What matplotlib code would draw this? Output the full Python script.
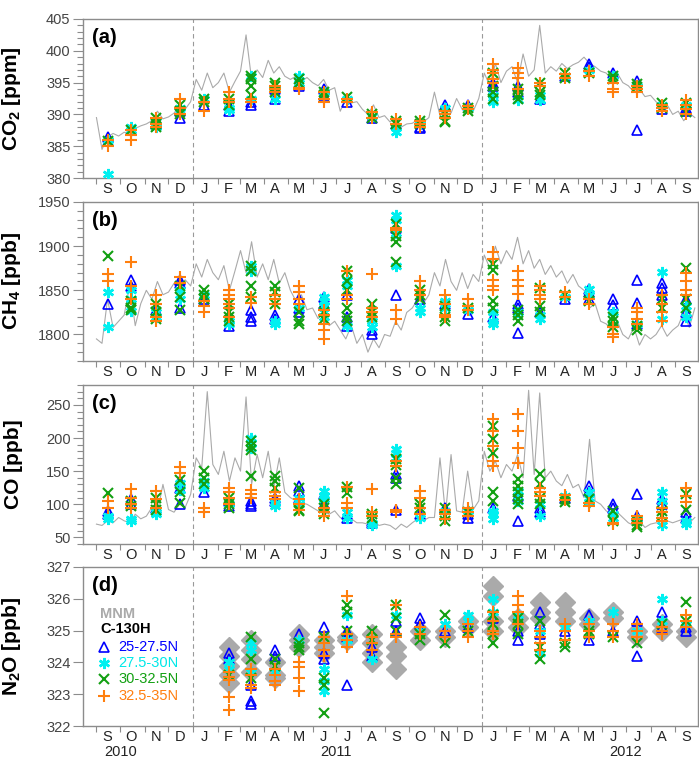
import datetime as dt
import numpy as np
import matplotlib
matplotlib.use("Agg")
import matplotlib.pyplot as plt
import matplotlib.dates as mdates
from matplotlib.ticker import MultipleLocator, FixedLocator, NullFormatter, FixedFormatter

plt.rcParams['font.family'] = ['Liberation Sans', 'DejaVu Sans']
plt.rcParams['mathtext.fontset'] = 'custom'
plt.rcParams['mathtext.rm'] = 'Liberation Sans:bold'
plt.rcParams['mathtext.default'] = 'rm'

# months Sep 2010 .. Sep 2012
month_letters = ['S', 'O', 'N', 'D', 'J', 'F', 'M', 'A', 'M', 'J', 'J', 'A',
                 'S', 'O', 'N', 'D', 'J', 'F', 'M', 'A', 'M', 'J', 'J', 'A', 'S']
years = ['2010', '2011', '2012']
year_pos = [dt.date(2010, 10, 1), dt.date(2011, 7, 1), dt.date(2012, 7, 1)]
band_names = ['25-27.5N', '27.5-30N', '30-32.5N', '32.5-35N']

# MNM record, one value every 7 days from 1 Sep 2010
mnm_start = dt.date(2010, 9, 1)
mnm_co2 = [389.5, 384.5, 386.5, 387.0, 386.6,
           387.2, 386.9, 387.8, 388.2,
           388.5, 389.0, 390.5, 389.3,
           389.6, 390.2, 391.3, 390.8, 392.0,
           395.5, 393.8, 396.5, 394.2,
           395.0, 396.5, 393.5, 395.2,
           396.8, 402.5, 395.5, 397.0, 395.8,
           398.5, 396.5, 397.5, 396.0,
           395.5, 396.0, 395.2, 395.8,
           395.0, 394.5, 395.5, 393.8, 394.2,
           390.5, 392.5, 391.8, 392.0,
           390.8, 390.0, 391.5, 389.5, 389.8,
           388.8, 389.5, 388.0, 388.5,
           388.6, 389.2, 388.8, 389.5,
           393.5, 389.8, 391.8, 390.2, 392.5,
           390.8, 391.5, 390.5, 392.5,
           396.5, 394.5, 398.0, 395.0, 396.8,
           397.5, 395.0, 399.5, 396.0,
           397.0, 404.0, 396.5, 397.5,
           396.8, 398.0, 397.2, 397.8, 398.2,
           399.0, 398.0, 397.5, 396.8,
           396.5, 395.5, 396.5, 395.0,
           394.5, 393.5, 394.0, 392.8, 393.0,
           392.0, 391.0, 391.5, 390.0,
           390.5, 389.0, 390.2, 389.5]
mnm_ch4 = [1795, 1790, 1840, 1808, 1815,
           1822, 1855, 1810, 1835,
           1850, 1840, 1860, 1845,
           1848, 1858, 1845, 1862, 1855,
           1880, 1865, 1885, 1870,
           1862, 1878, 1850, 1872,
           1895, 1870, 1905, 1865, 1880,
           1862, 1885, 1858, 1870,
           1850, 1838, 1845, 1828,
           1830, 1818, 1825, 1810, 1815,
           1805, 1795, 1810, 1790,
           1800, 1780, 1795, 1785, 1800,
           1798, 1815, 1805, 1825,
           1830, 1840, 1835, 1845,
           1870, 1855, 1885, 1860, 1850,
           1870, 1852, 1868, 1860,
           1890, 1875, 1900, 1880, 1895,
           1885, 1910, 1880, 1895,
           1875, 1885, 1868, 1878,
           1865, 1872, 1858, 1868, 1855,
           1850, 1830, 1835, 1815,
           1812, 1805, 1815, 1800,
           1795, 1808, 1788, 1800, 1795,
           1800, 1810, 1798, 1805,
           1810, 1825, 1808, 1830]
mnm_co = [70, 68, 75, 72, 80,
          75, 72, 85, 78,
          82, 95, 88, 130,
          92, 88, 100, 95, 115,
          170, 155, 270, 160,
          145, 180, 135, 170,
          150, 262, 130, 175, 140,
          180, 125, 170, 118,
          110, 105, 102, 100,
          95, 90, 88, 85, 90,
          80, 75, 78, 72,
          72, 70, 74, 68, 70,
          68, 62, 70, 65,
          72, 78, 75, 80,
          80, 170, 85, 175, 90,
          88, 150, 92, 105,
          180, 150, 165, 140, 160,
          150, 175, 140, 272,
          145, 268, 140, 150,
          135, 128, 145, 125, 130,
          110, 198, 105, 100,
          90, 85, 88, 80,
          72, 68, 75, 65, 70,
          72, 70, 75, 72,
          75, 78, 72, 80]

# C-130H flight values, one list per month, Sep 2010 .. Sep 2012
co2_b1 = [[386.5, 385.8], [387.5], [388.5], [389.5, 390.5], [391.5], [390.5, 391.5], [391.5, 392.0],
          [392.5, 394.0], [395.0, 394.5], [394.0, 393.0], [392.0], [389.5], [388.5], [388.0, 387.8],
          [391.5], [391.5], [395.0, 394.5], [394.5, 393.5], [392.5], [396.0], [398.0, 397.5], [396.5],
          [395.3, 387.5], [390.8], [391.0, 390.5]]
co2_b2 = [[386.0, 380.7], [388.0, 387.5], [389.0, 388.0], [391.0, 390.5], [392.5], [391.0, 390.7],
          [396.0, 392.5], [392.5], [396.0, 395.0], [393.5], [392.5], [389.8], [388.0, 387.3], [388.5],
          [391.0], [391.0], [392.0, 393.0], [392.2], [392.3, 393.0], [396.0], [397.0], [396.0], [394.5],
          [391.5], [391.5]]
co2_b3 = [[385.8], [387.5], [389.5, 388.5, 388.0], [391.5, 390.5, 390.0], [392.5, 392.0], [392.5, 391.5],
          [396.0, 395.5, 394.5, 393.0], [395.0, 394.5, 393.5], [395.5, 395.0], [393.5, 393.0], [392.8],
          [390.0, 389.5], [389.0, 388.5], [389.0, 388.5], [390.0, 389.0, 388.8], [391.0, 390.5],
          [396.5, 394.5, 393.5, 392.5], [394.0, 393.0, 392.5], [395.0, 393.5, 393.0], [396.5, 395.7],
          [396.5], [396.0, 395.5], [394.8, 394.3], [391.8, 391.0], [390.3, 391.8]]
co2_b4 = [[386.0, 385.0], [387.5, 386.8, 386.0], [389.5, 388.5, 388.0], [392.5, 391.0, 390.0],
          [392.0, 390.5], [393.5, 392.5, 392.0], [392.5, 392.0], [394.5, 394.0, 393.5], [394.2, 394.0],
          [393.5, 392.5, 392.0], [392.5, 392.0], [390.3, 389.5], [389.3, 388.5], [389.0, 388.5, 388.0],
          [390.5, 390.0, 389.5], [391.3, 390.8], [398.0, 397.0, 396.5, 395.5, 395.0],
          [397.3, 396.5, 395.7, 394.0], [395.0, 394.5], [396.3, 395.8], [396.8, 396.0],
          [395.0, 394.0, 393.5], [394.5, 394.0, 393.5], [391.5, 391.0, 390.5], [392.3, 391.5, 390.8, 390.0]]

ch4_b1 = [[1835], [1862, 1855], [1828], [1862, 1858, 1830], [1840], [1810], [1828, 1820, 1815],
          [1822, 1818], [1840, 1830, 1825], [1842, 1835], [1845, 1820, 1810], [1800, 1805], [1920, 1845],
          [1840], [1835], [1823], [1820], [1835, 1830, 1802], [1825], [1840], [1852, 1848, 1840],
          [1840, 1833], [1862, 1836, 1812], [1858, 1853, 1845], [1840, 1825, 1815]]
ch4_b2 = [[1848, 1808], [1850, 1840, 1827], [1825, 1820], [1850, 1840], [1845], [1812, 1815], [1878, 1872],
          [1815, 1812], [1830], [1843, 1838, 1832, 1825, 1820], [1862, 1855, 1810], [1815, 1808],
          [1935, 1930, 1915, 1878], [1830, 1825], [1838, 1830], [1828], [1825, 1815, 1812], [1825],
          [1822, 1818], [1842], [1852, 1845], [1825, 1812], [1812], [1871, 1818], [1832, 1820]]
ch4_b3 = [[1889], [1838, 1830, 1828], [1835, 1825, 1818], [1855, 1842, 1828], [1850, 1845, 1840],
          [1835, 1825, 1820, 1815], [1878, 1872, 1855, 1843], [1855, 1848, 1835], [1825, 1815, 1812],
          [1825, 1818], [1872, 1860, 1850, 1830, 1820, 1815], [1835, 1825, 1820], [1925, 1912, 1905, 1882],
          [1850, 1845, 1840], [1832, 1820, 1815], [1830], [1880, 1873, 1838, 1830], [1828, 1822, 1815],
          [1853, 1832, 1826], [1845], [1838], [1820, 1815, 1808], [1810, 1805], [1840, 1830],
          [1875, 1840, 1830]]
ch4_b4 = [[1869, 1860], [1882, 1855, 1840], [1845, 1835, 1820, 1815], [1865, 1858], [1838, 1832, 1826],
          [1850, 1845, 1840, 1835, 1830, 1820], [1842, 1836], [1845, 1840, 1835], [1855, 1848, 1840, 1835],
          [1828, 1822, 1812, 1805, 1795], [1872, 1845, 1840], [1868, 1830, 1825, 1820],
          [1920, 1918, 1828, 1818], [1860, 1850, 1845], [1845, 1835, 1822, 1820], [1840, 1832, 1828],
          [1893, 1885, 1862, 1855, 1850], [1872, 1862, 1855, 1846], [1855, 1850, 1845, 1840], [1848, 1843],
          [1840, 1835], [1808, 1800, 1797], [1830, 1825, 1818, 1812], [1845, 1835, 1825, 1815],
          [1870, 1860, 1850, 1845]]

co_b1 = [[90, 85], [108, 100], [95], [135, 125, 100], [118], [105, 98], [105, 100, 97], [105, 110],
         [127, 120, 110], [115, 100], [85, 80], [75, 72], [145, 140, 92], [85], [95], [85, 80], [95],
         [112, 75], [95, 88], [110], [127, 120], [100, 95], [115, 82], [108, 100], [88, 80]]
co_b2 = [[82, 77], [78, 75], [88, 85], [132, 122], [135, 125], [100], [200, 193, 185], [102, 98], [110, 100],
         [120, 112, 108], [88, 80], [72, 68], [183, 178, 170], [80], [90], [90], [90, 85, 78], [120, 105],
         [100, 82], [112], [118, 110, 103], [85, 80], [78], [118, 105, 68], [75, 70]]
co_b3 = [[117], [105, 98], [110, 100, 92], [136, 118, 102], [150, 140, 130], [110, 100, 95],
         [195, 188, 182, 143], [142, 135, 125], [125, 92, 90], [100, 95, 85], [126, 117], [85, 80],
         [168, 160, 140, 130], [100, 95], [95, 82, 75], [88], [218, 198, 178, 118, 105],
         [138, 128, 118, 108, 100], [145, 130, 110, 100], [108, 104], [108], [90, 75], [75, 68, 65],
         [90, 82], [115, 92]]
co_b4 = [[105, 95], [123, 110, 100, 95], [120, 108, 95], [156, 147], [95, 88], [125, 118, 110, 100],
         [122, 115, 110], [118, 113, 108], [108, 100, 92], [95, 88, 82], [126, 102, 95], [123, 88, 82],
         [165, 158, 92, 88], [120, 110, 95, 85], [92, 85, 78], [95, 88, 82], [228, 210, 188, 165, 158],
         [236, 210, 185, 162], [125, 118, 112], [114, 106], [102, 98], [72, 70], [82, 78, 72],
         [95, 88, 80, 75], [125, 113, 103]]

n2o_mnm = [[], [], [], [], [], [324.5, 324.2, 323.9, 323.6, 323.35], [324.7, 324.4, 324.1, 323.7],
           [324.0, 323.6, 323.5], [324.9, 324.7, 324.5], [324.7, 324.5, 324.3], [324.8, 324.7],
           [324.9, 324.6, 324.3, 324.0], [324.5, 324.2, 323.8], [325.0, 324.7], [325.0, 324.8],
           [325.3, 325.1], [326.4, 326.1, 325.3, 325.0], [325.4, 325.1], [325.9, 325.6, 325.4],
           [325.9, 325.6, 325.3], [325.4, 325.2], [325.6, 325.4], [325.0, 324.8], [325.2, 325.0],
           [325.0, 324.8]]
n2o_b1 = [[], [], [], [], [], [324.3, 324.1], [322.8, 322.7, 323.3], [324.4, 324.2], [324.9],
          [325.1, 324.3, 324.1], [325.0, 324.8, 323.3], [324.5, 324.2], [325.3, 325.0], [325.4, 325.2],
          [325.0], [325.1], [325.4], [325.0, 324.7], [325.6, 325.2, 324.9], [325.0], [325.5, 324.7],
          [325.0], [325.3, 324.2], [325.6, 325.1], [325.1, 325.0]]
n2o_b2 = [[], [], [], [], [], [324.0, 323.8], [324.6, 324.4, 323.7], [323.7], [324.7], [323.8, 323.4, 323.1],
          [325.5, 324.7], [324.1], [325.5], [325.0], [325.2], [325.5, 325.3], [326.0, 325.6], [325.5],
          [324.3, 325.0], [325.1], [325.3], [325.6], [325.0], [326.0, 325.3], [325.2]]
n2o_b3 = [[], [], [], [], [], [323.6], [324.8, 324.1, 323.5], [324.1, 323.9], [324.6, 324.5, 324.4],
          [324.8, 323.5, 323.3, 322.4], [325.8, 325.6, 325.0], [325.0, 324.7], [325.8, 325.4, 325.0],
          [324.9, 324.7], [325.5, 324.6], [325.0], [325.5, 325.2, 324.9, 324.6], [325.4, 325.2, 324.9],
          [325.3, 324.5, 324.1], [324.6, 324.5], [325.0, 324.9], [324.8], [324.6], [325.2], [325.9, 325.3]]
n2o_b4 = [[], [], [], [], [], [323.7, 323.55, 323.45, 322.9, 322.5], [323.8, 323.6, 323.3, 323.2],
          [323.8, 323.6, 323.4, 323.3], [324.0, 323.85, 323.5, 323.1], [324.8, 324.6, 324.4, 324.2],
          [326.1, 324.9, 324.7, 324.5], [324.8, 324.6, 324.4], [325.8, 324.9, 324.8], [325.1, 324.9],
          [325.0, 324.8], [325.2, 325.0, 324.8], [325.6, 325.3, 325.0, 324.9], [326.1, 325.8, 325.6, 325.2],
          [325.0, 324.8, 324.6, 324.4], [325.2, 325.0, 324.7], [325.2, 325.0, 324.8], [325.2, 325.0, 324.8],
          [325.2, 325.0, 324.8], [325.1, 325.0, 324.9], [325.5, 325.3, 325.1]]

# ---- styles ----
band_styles = [
    dict(marker='^', mfc='none', mec='#0000ff', ms=7, mew=1.2),
    dict(marker=(6, 2, 0), color='#00f0f0', mec='#00f0f0', ms=8, mew=1.8),
    dict(marker='x', color='#12a012', mec='#12a012', ms=7, mew=1.5),
    dict(marker='+', color='#ff7f0e', mec='#ff7f0e', ms=9, mew=1.5),
]
band_colors = ['#0000ff', '#00e8e8', '#12a012', '#ff7f0e']
gray = '#aaaaaa'

month_starts = []
y, m = 2010, 9
for i in range(26):
    month_starts.append(dt.date(y, m, 1))
    m += 1
    if m > 12:
        m = 1
        y += 1
month_mids = [dt.date(d.year, d.month, 15) for d in month_starts[:-1]]
x_mid = mdates.date2num(month_mids)


def draw_bands(ax, bands):
    for vals, st in zip(bands, band_styles):
        xs, ys = [], []
        for i, v in enumerate(vals):
            xs += [x_mid[i]] * len(v)
            ys += v
        ax.plot(xs, ys, linestyle='none', zorder=3, **st)


def style_axis(ax, ylim, major, minor, ylabel, tag):
    ax.set_xlim(mdates.date2num(dt.date(2010, 8, 15)), mdates.date2num(dt.date(2012, 9, 30)))
    ax.set_ylim(*ylim)
    for s in ax.spines.values():
        s.set_color('#8c8c8c')
        s.set_linewidth(1.0)
    ax.yaxis.set_major_locator(MultipleLocator(major))
    if minor:
        ax.yaxis.set_minor_locator(MultipleLocator(minor))
    ax.tick_params(axis='y', which='major', direction='out', length=7, width=0.8,
                   color='#8c8c8c', labelsize=10.5, labelcolor='#444444', pad=2)
    ax.tick_params(axis='y', which='minor', direction='out', length=4, width=0.8, color='#8c8c8c')
    # month boundaries as ticks, letters at month centres
    ax.xaxis.set_major_locator(FixedLocator(mdates.date2num(month_starts)))
    ax.xaxis.set_major_formatter(NullFormatter())
    ax.xaxis.set_minor_locator(FixedLocator(x_mid))
    ax.xaxis.set_minor_formatter(FixedFormatter(month_letters))
    ax.tick_params(axis='x', which='major', direction='out', length=4, width=0.8, color='#8c8c8c')
    ax.tick_params(axis='x', which='minor', length=0, labelsize=10.5, labelcolor='#222222', pad=3)
    for d in [dt.date(2011, 1, 1), dt.date(2012, 1, 1)]:
        ax.axvline(mdates.date2num(d), color='#999999', ls=(0, (4, 3)), lw=0.8, zorder=1)
    ax.set_ylabel(ylabel, fontsize=15, fontweight='bold')
    ax.yaxis.set_label_coords(-0.098, 0.5)
    ax.text(0.014, 0.885, tag, transform=ax.transAxes, fontsize=14.5, fontweight='bold', va='center')


W, H = 699, 760
fig = plt.figure(figsize=(W / 100, H / 100), dpi=100)
tops = [19, 202, 385, 567]
axes = [fig.add_axes([83 / W, 1 - (t + 159) / H, 615 / W, 159 / H]) for t in tops]

mnm_x = mdates.date2num([mnm_start + dt.timedelta(days=7 * i) for i in range(len(mnm_co2))])

ax = axes[0]
ax.plot(mnm_x, mnm_co2, color=gray, lw=0.8, zorder=2)
draw_bands(ax, [co2_b1, co2_b2, co2_b3, co2_b4])
style_axis(ax, (380, 405), 5, 1, r'CO$_2$ [ppm]', '(a)')

ax = axes[1]
ax.plot(mnm_x, mnm_ch4, color=gray, lw=0.8, zorder=2)
draw_bands(ax, [ch4_b1, ch4_b2, ch4_b3, ch4_b4])
style_axis(ax, (1770, 1950), 50, 10, r'CH$_4$ [ppb]', '(b)')

ax = axes[2]
ax.plot(mnm_x, mnm_co, color=gray, lw=0.8, zorder=2)
draw_bands(ax, [co_b1, co_b2, co_b3, co_b4])
style_axis(ax, (40, 280), 50, 10, 'CO [ppb]', '(c)')

ax = axes[3]
mx, my = [], []
for i, v in enumerate(n2o_mnm):
    mx += [x_mid[i]] * len(v)
    my += v
ax.plot(mx, my, linestyle='none', marker='D', ms=10, color=gray, mec=gray, zorder=2)
draw_bands(ax, [n2o_b1, n2o_b2, n2o_b3, n2o_b4])
style_axis(ax, (322, 327), 1, None, r'N$_2$O [ppb]', '(d)')

# years under the bottom panel
for yr, d in zip(years, year_pos):
    ax.text(mdates.date2num(d), -0.165, yr, transform=ax.get_xaxis_transform(),
            ha='center', va='center', fontsize=10.5, color='#222222')

# hand-placed legend
ax.text(0.028, 0.705, 'MNM', transform=ax.transAxes, fontsize=10.5, fontweight='bold',
        color=gray, va='center')
ax.text(0.028, 0.61, 'C-130H', transform=ax.transAxes, fontsize=10.5, fontweight='bold',
        color='black', va='center')
leg_y = [0.495, 0.395, 0.295, 0.19]
for yy, st, name, col in zip(leg_y, band_styles, band_names, band_colors):
    ax.plot([0.034], [yy], transform=ax.transAxes, linestyle='none', clip_on=False, **st)
    ax.text(0.057, yy, name, transform=ax.transAxes, fontsize=10.5, color=col, va='center')

fig.savefig('out.png', dpi=100)
